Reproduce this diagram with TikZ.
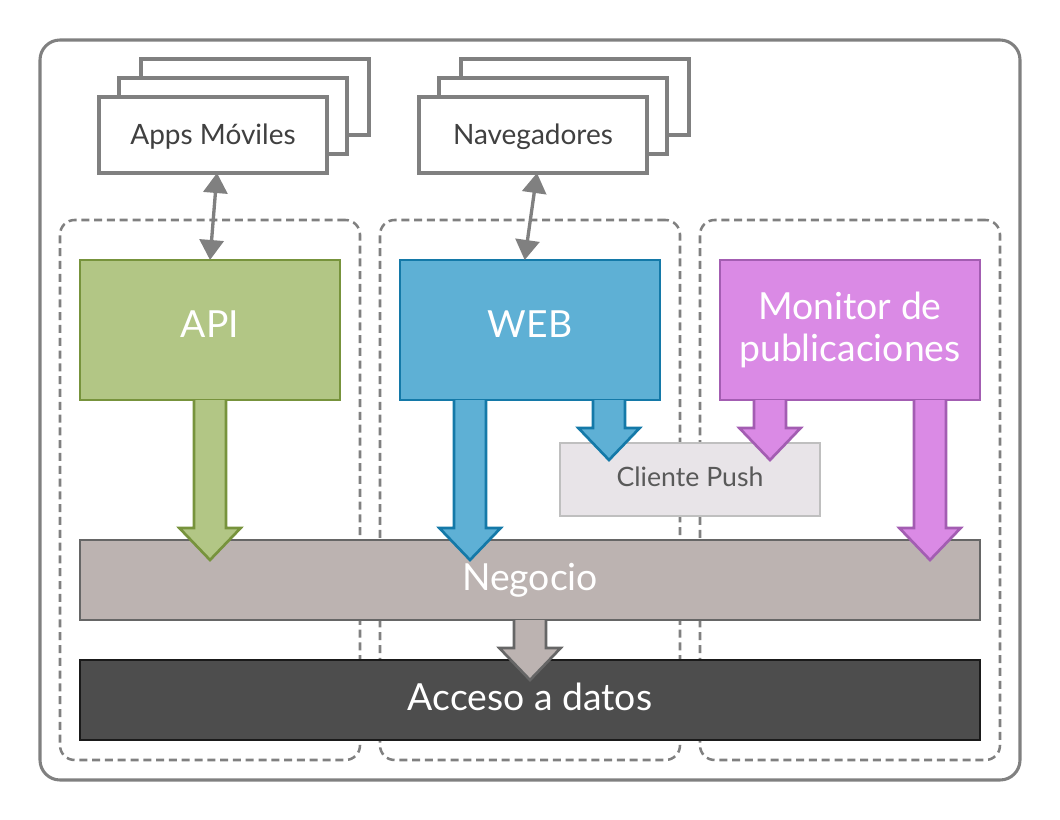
\documentclass[tikz,border=0pt]{standalone}
\usepackage{fontspec}
\setmainfont{Lato}
\usetikzlibrary{arrows.meta,calc}
\definecolor{outerc}{HTML}{808080}
\definecolor{apif}{HTML}{B2C685}
\definecolor{apid}{HTML}{77933C}
\definecolor{webf}{HTML}{5EB0D5}
\definecolor{webd}{HTML}{1479A8}
\definecolor{monf}{HTML}{DA8AE5}
\definecolor{mond}{HTML}{A35DB2}
\definecolor{pushf}{HTML}{E8E4E8}
\definecolor{pushd}{HTML}{BFBFBF}
\definecolor{pusht}{HTML}{595959}
\definecolor{negf}{HTML}{BCB3B1}
\definecolor{negd}{HTML}{666666}
\definecolor{accf}{HTML}{4D4D4D}
\definecolor{accd}{HTML}{1A1A1A}
\definecolor{txtc}{HTML}{404040}
\tikzset{
  sz/.style 2 args={minimum width=#1*0.75pt, minimum height=#2*0.75pt, inner sep=0pt, outer sep=0pt},
  client/.style={draw=outerc, fill=white, line width=2.3pt, sz={228}{76}, text=txtc, font=\fontsize{21}{25}\selectfont, text height=15pt, text depth=0pt},
  colbox/.style={draw=outerc, line width=1.9pt, dash pattern=on 6pt off 3.6pt, rounded corners=11pt, sz={300}{540}},
  bigbox/.style={line width=1.9pt, text=white, font=\fontsize{28}{31}\selectfont, align=center},
  oneline/.style={text height=20pt, text depth=9pt},
  layerline/.style={text height=20pt, text depth=5pt},
  dbl/.style={draw=outerc, line width=2.5pt, {Triangle[width=18pt,length=15pt]}-{Triangle[width=18pt,length=15pt]}},
}
% block arrow: #1 style, #2 start, #3 tip
\newcommand\barrow[3]{%
  \filldraw[#1, line width=2pt, line join=miter] let \p1=#2, \p2=#3 in
    (\x1-12pt,\y1) -- (\x1-12pt,\y2+24pt) -- (\x1-23pt,\y2+24pt) -- (\x2,\y2)
    -- (\x1+23pt,\y2+24pt) -- (\x1+12pt,\y2+24pt) -- (\x1+12pt,\y1);}
\begin{document}
\begin{tikzpicture}[x=0.75pt,y=-0.75pt]
\useasboundingbox (0,0) rectangle (1060,820);
% outer frame
\node[draw=outerc, line width=2.3pt, rounded corners=15pt, sz={980}{740}] (outer) at (530,410) {};
% dashed columns
\node[colbox] (col1) at (210,490) {};
\node[colbox] (col2) at (530,490) {};
\node[colbox] (col3) at (850,490) {};
% client stacks
\node[client] (apps3) at (255,97) {};
\node[client] (apps2) at (233,116) {};
\node[client] (apps) at (213,135) {Apps Móviles};
\node[client] (nav3) at (575,97) {};
\node[client] (nav2) at (553,116) {};
\node[client] (nav) at (533,135) {Navegadores};
% main boxes
\node[bigbox, oneline, draw=apid, fill=apif, sz={260}{140}] (api) at (210,330) {API};
\node[bigbox, oneline, draw=webd, fill=webf, sz={260}{140}] (web) at (530,330) {WEB};
\node[bigbox, draw=mond, fill=monf, sz={260}{140}] (mon) at (850,330) {Monitor de\\publicaciones};
\node[draw=pushd, fill=pushf, line width=1.9pt, sz={260}{73}, text=pusht, font=\fontsize{20}{24}\selectfont, text height=14.5pt, text depth=4.5pt] (push) at (690,479.5) {Cliente Push};
\node[bigbox, layerline, draw=negd, fill=negf, sz={900}{80}] (neg) at (530,580) {Negocio};
\node[bigbox, layerline, draw=accd, fill=accf, sz={900}{80}] (acc) at (530,700) {Acceso a datos};
% double arrows
\draw[dbl] ([xshift=3pt]apps.south) -- (api.north);
\draw[dbl] ([xshift=3pt]nav.south) -- ([xshift=-4pt]web.north);
% block arrows
\barrow{draw=apid, fill=apif}{(api.south)}{($(api.south |- neg.north)+(0,20)$)}
\barrow{draw=webd, fill=webf}{($(web.south west)+(70,0)$)}{($(web.south west |- neg.north)+(70,20)$)}
\barrow{draw=webd, fill=webf}{($(web.south east)+(-51,0)$)}{($(web.south east)+(-51,60)$)}
\barrow{draw=mond, fill=monf}{($(mon.south west)+(50,0)$)}{($(mon.south west)+(50,60)$)}
\barrow{draw=mond, fill=monf}{($(mon.south east)+(-50,0)$)}{($(mon.south east |- neg.north)+(-50,20)$)}
\barrow{draw=negd, fill=negf}{(neg.south)}{($(acc.north)+(0,20)$)}
\end{tikzpicture}
\end{document}
